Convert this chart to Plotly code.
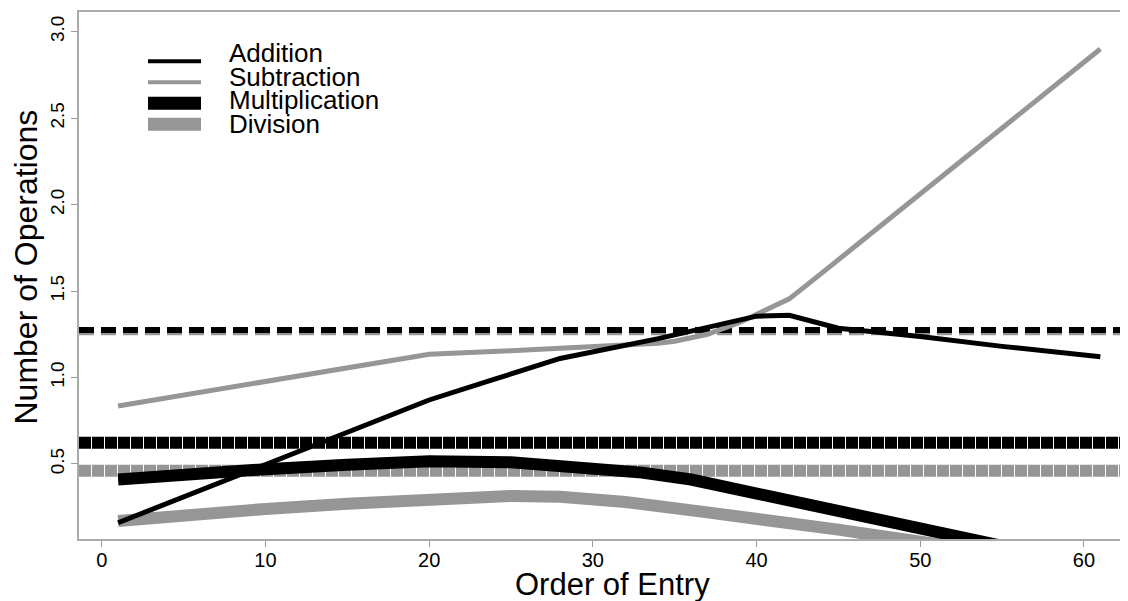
import plotly.graph_objects as go

# ---------------- data ----------------
operations = ["Addition", "Subtraction", "Multiplication", "Division"]

add_x = [1, 5, 10, 15, 20, 24, 28, 34, 40, 42, 43, 45, 50, 55, 61]
add_y = [0.16, 0.31, 0.49, 0.68, 0.87, 0.99, 1.11, 1.225, 1.355, 1.36, 1.335, 1.285, 1.237, 1.18, 1.12]

sub_x = [1, 10, 20, 25, 30, 34, 35, 37, 39, 40, 41, 42, 44, 50, 55, 61]
sub_y = [0.835, 0.98, 1.135, 1.155, 1.175, 1.198, 1.21, 1.25, 1.32, 1.365, 1.405, 1.455, 1.605, 2.06, 2.44, 2.90]

mul_x = [1, 5, 10, 15, 20, 25, 30, 33, 36, 38, 41, 45, 50, 55, 61]
mul_y = [0.41, 0.44, 0.47, 0.495, 0.515, 0.51, 0.48, 0.45, 0.41, 0.37, 0.30, 0.215, 0.115, 0.02, -0.095]

div_x = [1, 5, 10, 15, 20, 25, 28, 32, 37, 41, 45, 50, 55, 61]
div_y = [0.17, 0.205, 0.24, 0.27, 0.30, 0.315, 0.31, 0.28, 0.22, 0.175, 0.12, 0.05, -0.02, -0.1]

# overall means (horizontal dashed reference lines)
mean_values = [1.275, 1.262, 0.622, 0.461]

x_ticks = [0, 10, 20, 30, 40, 50, 60]
y_ticks = [0.5, 1.0, 1.5, 2.0, 2.5, 3.0]

# ---------------- styles ----------------
BLACK = "#000000"
GRAY = "#969696"
colors = [BLACK, GRAY, BLACK, GRAY]
curve_widths = [5, 5, 12, 12]
legend_widths = [4, 4, 13, 13]
mean_widths = [6, 6, 12, 12]
mean_dash = ["15px,7px", "15px,7px", "12px,1px", "12px,1px"]

FONT = "Liberation Sans, Arial, Helvetica, sans-serif"

# page is 1128x601; the html body adds an 8px margin
PAGE_W, PAGE_H = 1128, 601
OFF = 8
W, H = PAGE_W - OFF, PAGE_H - OFF
# plot area in page pixels
P_LEFT, P_TOP, P_BOTTOM = 79, 12, 539
L = P_LEFT - OFF
T = P_TOP - OFF
R = 0
B = PAGE_H - P_BOTTOM
PW, PH = W - L - R, H - T - B


def px_x(p):
    return (p - P_LEFT) / PW


def px_y(p):
    return (P_BOTTOM - p) / PH


fig = go.Figure()

series = [(add_x, add_y), (sub_x, sub_y), (mul_x, mul_y), (div_x, div_y)]
draw_order = [3, 2, 1, 0]
for i in draw_order:
    xs, ys = series[i]
    fig.add_trace(go.Scatter(
        x=xs, y=ys, mode="lines", name=operations[i],
        line=dict(color=colors[i], width=curve_widths[i]),
        showlegend=False, hoverinfo="skip",
    ))

# mean lines (drawn beneath the curves)
for i in [3, 2, 1, 0]:
    fig.add_hline(y=mean_values[i], layer="below",
                  line=dict(color=colors[i], width=mean_widths[i], dash=mean_dash[i]))

# manual legend
leg_line_y = [61.3, 82.3, 103.3, 124.3]
leg_text_y = [52.5, 77, 100, 124]
for i, name in enumerate(operations):
    fig.add_shape(type="line", xref="paper", yref="paper",
                  x0=px_x(148), x1=px_x(201), y0=px_y(leg_line_y[i]), y1=px_y(leg_line_y[i]),
                  line=dict(color=colors[i], width=legend_widths[i]))
    fig.add_annotation(text=name, xref="paper", yref="paper",
                       x=px_x(227), y=px_y(leg_text_y[i]), xanchor="left", yanchor="middle",
                       showarrow=False, font=dict(family=FONT, size=26, color="black"))

# axis titles
fig.add_annotation(text="Order of Entry", xref="paper", yref="paper",
                   x=px_x(612), y=px_y(584), xanchor="center", yanchor="middle",
                   showarrow=False, font=dict(family=FONT, size=31, color="black"))
fig.add_annotation(text="Number of Operations", xref="paper", yref="paper",
                   x=px_x(25.5), y=px_y(267), xanchor="center", yanchor="middle",
                   textangle=-90, showarrow=False, font=dict(family=FONT, size=32, color="black"))

fig.update_xaxes(range=[-1.387, 62.69], tickvals=x_ticks, ticks="outside", ticklen=6,
                 tickcolor="#999999", showline=True, linecolor="#aaaaaa", linewidth=1.5,
                 mirror=True, showgrid=False, zeroline=False, ticklabelstandoff=-4,
                 tickfont=dict(family=FONT, size=20, color="black"))
fig.update_yaxes(range=[0.066, 3.114], tickvals=y_ticks, tickformat=".1f", ticks="outside",
                 ticklen=6, tickcolor="#999999", showline=True, linecolor="#aaaaaa",
                 linewidth=1.5, showgrid=False, zeroline=False, tickangle=-90,
                 tickfont=dict(family=FONT, size=19, color="black"))

fig.update_layout(width=W, height=H, margin=dict(l=L, r=R, t=T, b=B),
                  plot_bgcolor="white", paper_bgcolor="white", showlegend=False)

fig.write_html("out.html")
